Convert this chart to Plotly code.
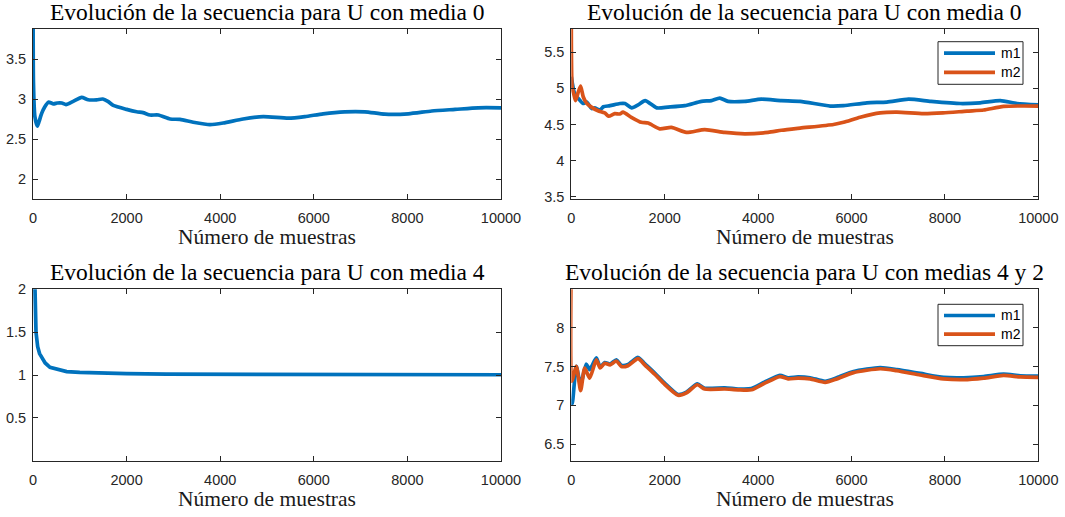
import plotly.graph_objects as go

# ---- data: running estimates vs number of samples ----
n_media0 = [1, 10, 40, 92, 130, 185, 250, 330, 435, 520, 615, 705, 860, 1040, 1180, 1360,
            1490, 1600, 1715, 2000, 2215, 2350, 2500, 2680, 2930, 3140, 3425, 3780, 4065,
            4490, 4920, 5455, 5810, 6200, 6660, 7090, 7520, 8020, 8520, 9020, 9515, 10000]
est_media0 = [4.6, 3.2, 2.78, 2.66, 2.72, 2.82, 2.90, 2.96, 2.94, 2.95, 2.95, 2.93, 2.97, 3.02,
              2.99, 2.99, 3.00, 2.97, 2.92, 2.87, 2.84, 2.83, 2.80, 2.80, 2.75, 2.745, 2.71,
              2.68, 2.70, 2.75, 2.78, 2.76, 2.78, 2.815, 2.84, 2.84, 2.81, 2.815, 2.85, 2.87,
              2.89, 2.89]

n_m1_media0 = [0, 70, 150, 250, 330, 437, 500, 615, 686, 830, 1043, 1150, 1294, 1430, 1580,
               1830, 2072, 2430, 2786, 3000, 3180, 3357, 3715, 4070, 4500, 4900, 5543, 5830,
               6330, 6757, 7222, 7700, 8330, 8757, 9186, 9543, 10000]
m1_media0 = [5.16, 4.93, 4.86, 4.79, 4.81, 4.72, 4.73, 4.70, 4.745, 4.76, 4.79, 4.79, 4.73,
             4.77, 4.83, 4.73, 4.74, 4.76, 4.82, 4.83, 4.865, 4.82, 4.82, 4.85, 4.83, 4.82,
             4.755, 4.76, 4.80, 4.81, 4.85, 4.82, 4.79, 4.80, 4.83, 4.79, 4.77]
n_m2_media0 = [0, 20, 50, 90, 150, 200, 257, 322, 430, 572, 715, 800, 930, 1037, 1108, 1286,
               1500, 1643, 1893, 2143, 2464, 2857, 3286, 3715, 4215, 4500, 4900, 5614, 5830,
               6186, 6614, 6972, 7543, 7960, 8472, 8830, 9257, 10000]
m2_media0 = [6.5, 5.0, 4.93, 4.83, 4.95, 5.03, 4.88, 4.80, 4.74, 4.69, 4.66, 4.615, 4.65,
             4.645, 4.67, 4.60, 4.53, 4.52, 4.44, 4.46, 4.39, 4.43, 4.39, 4.37, 4.39, 4.42,
             4.45, 4.50, 4.53, 4.60, 4.66, 4.67, 4.65, 4.66, 4.685, 4.70, 4.75, 4.755]

n_media4 = [1, 20, 43, 64, 100, 140, 185, 260, 363, 500, 720, 1000, 1430, 2000, 2850, 4000,
            6000, 8000, 10000]
est_media4 = [5.0, 2.9, 2.0, 1.5, 1.33, 1.25, 1.2, 1.14, 1.09, 1.07, 1.04, 1.03, 1.02, 1.015,
              1.01, 1.008, 1.005, 1.004, 1.003]

n_m1_medias42 = [0, 20, 107, 200, 320, 393, 536, 620, 715, 830, 965, 1072, 1215, 1430, 1572,
                 1786, 2000, 2286, 2464, 2700, 2857, 3286, 3572, 3857, 4143, 4465, 4643, 4857,
                 5114, 5436, 5686, 6043, 6614, 6972, 7472, 7972, 8400, 8830, 9257, 9614, 10000]
m1_medias42 = [7.05, 7.02, 7.5, 7.27, 7.53, 7.46, 7.61, 7.49, 7.55, 7.53, 7.585, 7.515, 7.525,
               7.615, 7.535, 7.415, 7.285, 7.14, 7.17, 7.275, 7.22, 7.225, 7.21, 7.215, 7.3,
               7.385, 7.355, 7.365, 7.355, 7.31, 7.355, 7.435, 7.485, 7.46, 7.41, 7.36, 7.355,
               7.37, 7.40, 7.38, 7.375]
n_m2_medias42 = [0, 10, 107, 200, 287, 393, 536, 620, 715, 830, 965, 1072, 1215, 1430, 1572,
                 1786, 2000, 2286, 2464, 2700, 2857, 3286, 3572, 3857, 4143, 4465, 4643, 4857,
                 5114, 5436, 5686, 6043, 6614, 6972, 7472, 7972, 8400, 8830, 9257, 9614, 10000]
m2_medias42 = [9.0, 7.31, 7.5, 7.19, 7.48, 7.35, 7.585, 7.48, 7.54, 7.52, 7.57, 7.50, 7.51,
               7.60, 7.52, 7.40, 7.27, 7.13, 7.16, 7.265, 7.21, 7.21, 7.20, 7.20, 7.285, 7.37,
               7.34, 7.35, 7.34, 7.295, 7.34, 7.42, 7.47, 7.445, 7.39, 7.34, 7.33, 7.35, 7.385,
               7.365, 7.36]

x_ticks = [0, 2000, 4000, 6000, 8000, 10000]
y_ticks_tl = [2, 2.5, 3, 3.5]
y_ticks_tr = [3.5, 4, 4.5, 5, 5.5]
y_ticks_bl = [0.5, 1, 1.5, 2]
y_ticks_br = [6.5, 7, 7.5, 8]

titles = ["Evolución de la secuencia para U con media 0",
          "Evolución de la secuencia para U con media 0",
          "Evolución de la secuencia para U con media 4",
          "Evolución de la secuencia para U con medias 4 y 2"]
xlabel = "Número de muestras"
legend_names = ["m1", "m2"]

BLUE = "#0072BD"
ORANGE = "#D95319"
AXC = "#262626"
W, H = 1065, 517
LW = 3.7


def px(x):
    return x / W


def py(y):
    return 1 - y / H


# plot-area boxes in pixels: (left, right, top, bottom)
boxes = {
    "tl": (33, 501, 29, 199),
    "tr": (571.3, 1038.3, 29, 199),
    "bl": (33, 501, 289.3, 460.7),
    "br": (571.3, 1038.3, 289.3, 460.7),
}

fig = go.Figure()

traces = [
    ("x", "y", n_media0, est_media0, BLUE, "spline"),
    ("x2", "y2", n_m1_media0, m1_media0, BLUE, "spline"),
    ("x2", "y2", n_m2_media0, m2_media0, ORANGE, "spline"),
    ("x3", "y3", n_media4, est_media4, BLUE, "linear"),
    ("x4", "y4", n_m1_medias42, m1_medias42, BLUE, "spline"),
    ("x4", "y4", n_m2_medias42, m2_medias42, ORANGE, "spline"),
]
for xa, ya, xs, ys, col, shape in traces:
    fig.add_trace(go.Scatter(x=xs, y=ys, xaxis=xa, yaxis=ya, mode="lines",
                             line=dict(color=col, width=LW, shape=shape,
                                       smoothing=0.6 if shape == "spline" else None),
                             showlegend=False, hoverinfo="skip"))

axis_common = dict(showline=True, linecolor=AXC, linewidth=1, mirror="ticks",
                   ticks="inside", ticklen=5, tickcolor=AXC, tickwidth=1,
                   showgrid=False, zeroline=False,
                   tickfont=dict(family="Liberation Sans", size=14.5, color=AXC))

specs = [
    ("tl", "xaxis", "yaxis", "y", "x", [1.75, 3.875], y_ticks_tl),
    ("tr", "xaxis2", "yaxis2", "y2", "x2", [3.47, 5.82], y_ticks_tr),
    ("bl", "xaxis3", "yaxis3", "y3", "x3", [0, 2], y_ticks_bl),
    ("br", "xaxis4", "yaxis4", "y4", "x4", [6.29, 8.49], y_ticks_br),
]
layout_axes = {}
for key, xname, yname, yanchor, xanchor, yr, yt in specs:
    l, r, t, b = boxes[key]
    layout_axes[xname] = dict(axis_common, domain=[px(l), px(r)], range=[0, 10000],
                              anchor=yanchor, tickvals=x_ticks,
                              ticktext=[str(v) for v in x_ticks], ticklabelstandoff=6)
    layout_axes[yname] = dict(axis_common, domain=[py(b), py(t)], range=yr,
                              anchor=xanchor, tickvals=yt,
                              ticktext=[f"{v:g}" for v in yt], ticklabelstandoff=3)

annotations = []
title_font = dict(family="Liberation Serif", size=23.5, color="#000000")
label_font = dict(family="Liberation Serif", size=21.5, color="#1a1a1a")
for (key, *_), title in zip(specs, titles):
    l, r, t, b = boxes[key]
    cx = (l + r) / 2
    annotations.append(dict(text=title, x=px(cx), y=py(t - 17.0), xref="paper", yref="paper",
                            xanchor="center", yanchor="middle", showarrow=False,
                            font=title_font, borderpad=0))
    annotations.append(dict(text=xlabel, x=px(cx), y=py(b + 38.0), xref="paper",
                            yref="paper", xanchor="center", yanchor="middle",
                            showarrow=False, font=label_font))

# legend boxes drawn for the two-series panels
shapes = []
for (lx0, ly0, lx1, ly1) in [(938, 41.7, 1023, 84.3), (938, 304.3, 1023, 345.7)]:
    shapes.append(dict(type="rect", xref="paper", yref="paper", x0=px(lx0), x1=px(lx1),
                       y0=py(ly1), y1=py(ly0), line=dict(color=AXC, width=1),
                       fillcolor="white", layer="above"))
    rows = [ly0 + (ly1 - ly0) * 0.27, ly0 + (ly1 - ly0) * 0.72]
    for name, col, ry in zip(legend_names, [BLUE, ORANGE], rows):
        shapes.append(dict(type="line", xref="paper", yref="paper", x0=px(944), x1=px(995),
                           y0=py(ry), y1=py(ry), line=dict(color=col, width=LW),
                           layer="above"))
        annotations.append(dict(text=name, x=px(998.5), y=py(ry), xref="paper", yref="paper",
                                xanchor="left", yanchor="middle", showarrow=False,
                                font=dict(family="Liberation Sans", size=14, color="#000000")))

fig.update_layout(width=W, height=H,
                  margin=dict(l=0, r=0, t=0, b=0, pad=0, autoexpand=False),
                  paper_bgcolor="white", plot_bgcolor="white",
                  annotations=annotations, shapes=shapes, **layout_axes)

fig.write_html("out.html", config={"displayModeBar": False})
